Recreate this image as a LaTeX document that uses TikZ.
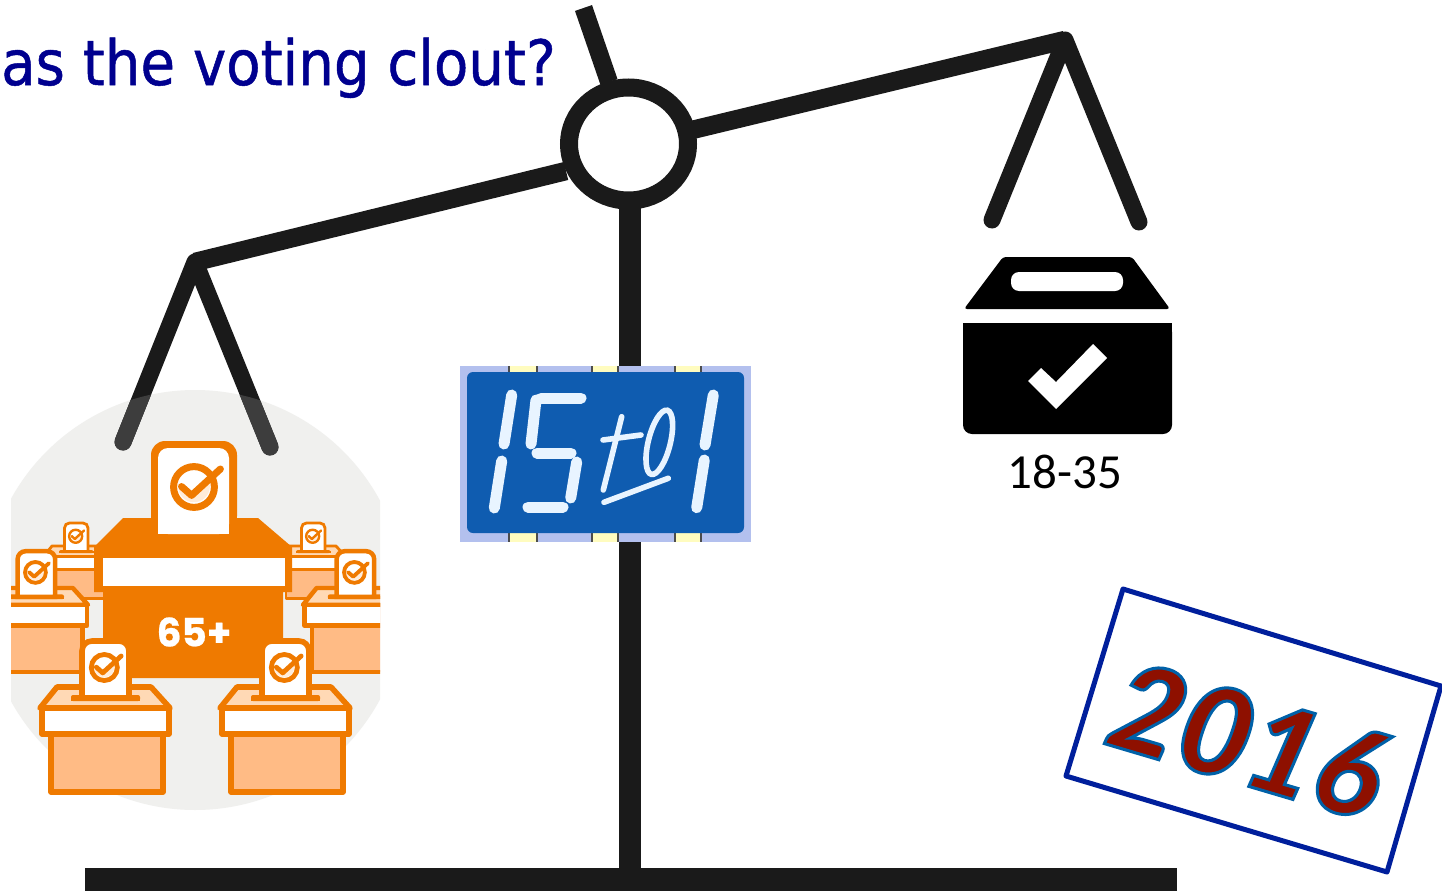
\documentclass[tikz,border=0pt]{standalone}
\usepackage{fontspec}
\setmainfont{Liberation Sans}
\newfontfamily\titlefont{DejaVu Sans Condensed}
\newfontfamily\calfont{Carlito}
\newfontfamily\boldfont{Poppins}[UprightFont=* Bold]
\newfontfamily\yearfont{Lato}[UprightFont=* Black Italic]
\definecolor{bar}{HTML}{1A1A1A}
\definecolor{org}{HTML}{EF7A00}
\definecolor{orgl}{HTML}{FFBB85}
\definecolor{orgp}{HTML}{FFD9B5}
\definecolor{circ}{HTML}{F0F0EE}
\definecolor{titleblue}{HTML}{00008F}
\definecolor{bad}{HTML}{0F5CB0}
\definecolor{badl}{HTML}{B3C0EE}
\definecolor{seg}{HTML}{E8F4FF}
\definecolor{frameblue}{HTML}{001F9C}
\definecolor{yearred}{HTML}{8E1000}
\tikzset{
  beam/.style={draw=bar,line width=18.5pt,line cap=butt},
  hang/.style={draw=bar,line width=17pt,line cap=round},
  segm/.style={draw=seg,line width=11pt,line cap=round},
  thinseg/.style={draw=seg,line width=5.6pt,line cap=round}
}
\newcommand{\voteicon}[4]{%
  \begin{scope}[shift={(#1,#2)},x=#3pt,y=-#3pt]
    \fill[white] (0,0) circle[radius=1];
    \fill[orgp!50!white] (-.62,.05) -- (-.1,.5) -- (.62,-.25) arc[start angle=-20,end angle=200,radius=.66] -- cycle;
    \draw[org,line width=#4pt] (0,0) circle[radius=.85];
    \draw[org,line width=#4pt,line cap=round,line join=round] (-.52,-.02) -- (-.1,.35) -- (1.1,-.75);
  \end{scope}}
\newcommand{\votebox}[3]{%
  \begin{scope}[shift={(#1,#2)},x=#3pt,y=-#3pt]
    \pgfmathsetmacro{\lw}{5.6*#3}
    \fill[orgl,draw=org,line width=\lw pt,line join=round] (-54,21) rectangle (58,105);
    \fill[orgp,draw=org,line width=\lw pt,line join=round] (-48,0) -- (46,0) -- (65,21) -- (-65,21) -- cycle;
    \fill[white,draw=org,line width=\lw pt,line join=round] (-63,21) rectangle (64,47);
    \fill[org,rounded corners=2pt] (-34,8) rectangle (35,14);
    \fill[white,draw=org,line width=\lw pt] (-23,11) -- (-23,-36) to[out=90,in=180] (-13,-46) -- (14,-46) to[out=0,in=90] (24,-36) -- (24,11) -- cycle;
    \fill[org] (-34,10) rectangle (35,14);
  \end{scope}
  \pgfmathsetmacro{\ix}{#1-0.7*#3}
  \pgfmathsetmacro{\iy}{#2-19.5*#3}
  \pgfmathsetmacro{\ir}{15.3*#3}
  \pgfmathsetmacro{\iw}{4.8*#3}
  \voteicon{\ix}{\iy}{\ir}{\iw}}
\begin{document}
\begin{tikzpicture}[x=1pt,y=-1pt]
\useasboundingbox (0,0) rectangle (1442,891);
\fill[white] (0,0) rectangle (1442,891);

\begin{scope}
  \clip (11,380) rectangle (380,820);
  \fill[circ] (195,600) circle[radius=210];
\end{scope}

\coordinate (pivot) at (628.5,144);
\coordinate (ltip) at (195,262);
\coordinate (rtip) at (1065,40);
\coordinate (lh1) at (123,442);
\coordinate (lh2) at (270,447);
\coordinate (rh1) at (992,220);
\coordinate (rh2) at (1139,222);
\coordinate (basel) at (85,879.5);
\coordinate (baser) at (1177,879.5);
\coordinate (postt) at (629.5,200);
\coordinate (postb) at (629.5,879);
\draw[draw=bar,line width=23pt] (basel) -- (baser);
\draw[draw=bar,line width=22pt] (postt) -- (postb);
\draw[beam] (566,171) -- (ltip);
\draw[beam] (692,130) -- (rtip);
\draw[hang,line join=round] (lh1) -- (ltip) -- (lh2);
\draw[hang,line join=round] (rh1) -- (rtip) -- (rh2);
\draw[beam,line width=18pt] (583.5,8) -- (609,82);
\draw[draw=bar,line width=18pt,fill=white] (pivot) ellipse[x radius=59.5,y radius=56.5];
\begin{scope}
  \clip (195,600) circle[radius=210];
  \draw[hang,draw=black!76] (lh1) -- (ltip) -- (lh2);
\end{scope}

\fill[black,rounded corners=3pt] (964,309) -- (1003,257) -- (1132,257) -- (1170,309) -- cycle;
\fill[white,rounded corners=8pt] (1011,272) rectangle (1123,291);
\fill[black,rounded corners=9pt] (963,323) -- (963,434) -- (1172,434) -- (1172,323) -- cycle;
\fill[black] (963,323) rectangle (1172,340);
\fill[white] (1028,381) -- (1041,368) -- (1056,382) -- (1093,344) -- (1107,358) -- (1056,409) -- cycle;
\node[font=\calfont\fontsize{49}{49}\selectfont,text=black,inner sep=0pt] (age) at (1065,472) {18-35};

\begin{scope}
  \clip (11,380) rectangle (380,820);
  \votebox{76}{546}{0.5}
  \votebox{313}{546}{0.5}
  \votebox{36}{588}{0.8}
  \votebox{355}{588}{0.8}
\end{scope}
\fill[org,line join=round] (123,518) -- (258,518) -- (292,547) -- (292,592) -- (283,592) -- (283,678) -- (103,678) -- (103,592) -- (94,592) -- (94,547) -- cycle;
\fill[white] (103,558) rectangle (285,586);
\fill[org,rounded corners=14pt] (151,441) -- (237,441) -- (237,530) -- (151,530) -- cycle;
\fill[org] (151,500) rectangle (237,534);
\fill[white,rounded corners=10pt] (158,534) -- (158,448) -- (229,448) -- (229,534) -- cycle;
\fill[white] (158,500) rectangle (229,534);
\voteicon{194}{487}{24}{7}
\node[font=\boldfont\fontsize{39}{39}\selectfont\addfontfeature{FakeBold=0.6},text=white,inner sep=0pt] (sixtyfive) at (194,632) {65+};
\votebox{105}{687}{1}
\votebox{285}{687}{1}

\fill[badl] (460,366) rectangle (751,542);
\foreach \xa/\xb in {509/537,592/618,675/701}{
  \fill[yellow!25!white] (\xa,366) rectangle (\xb,372);
  \fill[yellow!25!white] (\xa,533) rectangle (\xb,542);
  \draw[black!70,line width=1.6pt] (\xa,366) -- (\xa,372) (\xb,366) -- (\xb,372) (\xa,533) -- (\xa,542) (\xb,533) -- (\xb,542);
}
\fill[bad,rounded corners=6pt] (467,372) rectangle (744,533);
\draw[segm] (511.7,395) -- (504,444);
\draw[segm] (501.7,461) -- (494.3,508);
\draw[segm] (541,398) -- (581,398);
\draw[segm] (536,400) -- (531,444);
\draw[segm] (537,453) -- (571,453);
\draw[segm] (576.7,462) -- (570.7,498);
\draw[segm] (528,507) -- (563,507);
\draw[thinseg] (621.7,416.7) -- (603.3,490);
\draw[thinseg] (603,440) -- (641,435);
\draw[thinseg,fill=none,rotate around={-14:(659.3,442.3)}] (659.3,442.3) ellipse[x radius=11,y radius=33];
\draw[thinseg] (604,502.3) -- (668.3,478.3);
\draw[segm] (713.3,395) -- (705,445);
\draw[segm] (704.3,460) -- (696.7,507.7);

\draw[frameblue,line width=5pt,line join=round] (1123,589) -- (1441,686) -- (1387,872) -- (1066,776) -- cycle;
\node[inner sep=0pt,rotate=-16.5,text=yearred,font=\yearfont\fontsize{122}{122}\selectfont] (year) at (1248,740)
  {\addfontfeature{FakeBold=2.5}\special{pdf:code 0 0.38 0.66 RG}2016};

\node[anchor=base west,inner sep=0pt,text=titleblue,font=\titlefont\fontsize{62.5}{62.5}\selectfont\addfontfeature{FakeBold=0.8}] (title) at (1,85) {as the voting clout?};
\end{tikzpicture}
\end{document}
